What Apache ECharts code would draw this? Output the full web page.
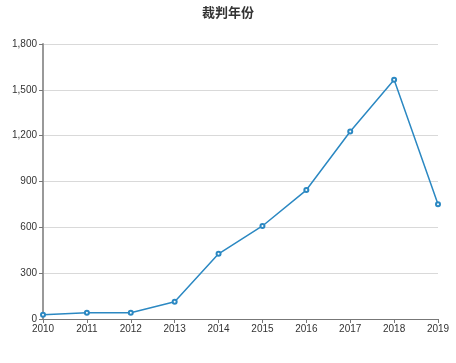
<!DOCTYPE html>
<html><head><meta charset="utf-8">
<script src="https://cdn.jsdelivr.net/npm/echarts@6/dist/echarts.min.js"></script>
<style>html,body{margin:0;padding:0;background:#fff}#c{width:456px;height:363px}</style>
</head><body><div id="c"></div>
<script>
const titleText = '裁判年份';
const years = ['2010','2011','2012','2013','2014','2015','2016','2017','2018','2019'];
const counts = [28, 41, 41, 113, 427, 609, 844, 1227, 1566, 751];
const yTicks = {min: 0, max: 1800, interval: 300};

const chart = echarts.init(document.getElementById('c'));
chart.setOption({
  animation: false,
  title: {text: titleText, left: 'center', top: 1,
    textStyle: {fontSize: 13, fontWeight: 'bold', color: '#333', fontFamily: 'Noto Sans CJK SC'}},
  grid: {left: 43, right: 18, top: 44, bottom: 44},
  xAxis: {type: 'category', data: years, boundaryGap: false,
    axisLine: {lineStyle: {color: '#777', width: 1}},
    axisTick: {alignWithLabel: true, length: 4, lineStyle: {color: '#777'}},
    axisLabel: {color: '#333', fontSize: 10, fontFamily: 'Liberation Sans', margin: 5}},
  yAxis: {type: 'value', min: yTicks.min, max: yTicks.max, interval: yTicks.interval,
    axisLine: {show: true, lineStyle: {color: '#999', width: 2}},
    axisTick: {show: true, length: 4, lineStyle: {color: '#777'}},
    axisLabel: {color: '#333', fontSize: 10, fontFamily: 'Liberation Sans', margin: 6,
      formatter: v => v.toLocaleString('en-US')},
    splitLine: {lineStyle: {color: '#d9d9d9'}}},
  series: [{type: 'line', data: counts, symbol: 'emptyCircle', symbolSize: 4,
    lineStyle: {color: '#2b88c2', width: 1.5},
    itemStyle: {color: '#2b88c2', borderWidth: 0.8}}]
});
</script></body></html>
